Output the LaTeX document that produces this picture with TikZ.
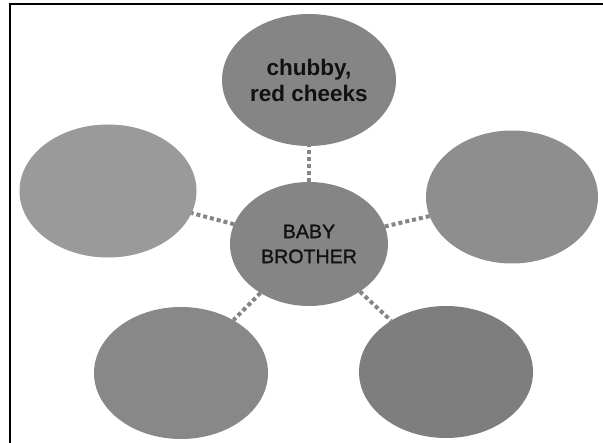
\documentclass[tikz,border=0pt]{standalone}
\usepackage{fontspec}
\setmainfont{Liberation Sans}
\newfontfamily\medfont[FakeBold=1.3]{Liberation Sans}
\usetikzlibrary{shapes.geometric}
\definecolor{blobA}{HTML}{858585}
\definecolor{blobL}{HTML}{9A9A9A}
\definecolor{blobR}{HTML}{8E8E8E}
\definecolor{blobBL}{HTML}{888888}
\definecolor{blobBR}{HTML}{7E7E7E}
\definecolor{txt}{HTML}{111111}
\tikzset{
  blob/.style={ellipse, inner sep=0pt, outer sep=0pt, minimum width=174pt, minimum height=132pt, align=center, text=txt},
  link/.style={draw=blobA, line width=4pt, dash pattern=on 4pt off 3pt}
}
\begin{document}
\begin{tikzpicture}[x=1pt,y=-1pt]
\useasboundingbox (0,0) rectangle (603,443);
\fill[white] (0,0) rectangle (603,443);
\draw[line width=2pt, black] (10,443) -- (10,4) -- (603,4);
\node[blob, fill=blobA, font=\fontsize{22.5}{26}\selectfont\bfseries] (top) at (309,80) {chubby,\\red cheeks};
\node[blob, fill=blobA, minimum width=158pt, minimum height=124pt, font=\medfont\fontsize{19.6}{25}\selectfont] (c) at (309,244) {BABY\\BROTHER};
\node[blob, fill=blobL, minimum width=177pt, minimum height=133pt] (l) at (108,191) {};
\node[blob, fill=blobR, minimum width=172pt, minimum height=133pt] (r) at (512,197) {};
\node[blob, fill=blobBL] (bl) at (181,373) {};
\node[blob, fill=blobBR, minimum height=132pt] (br) at (446,372) {};
\draw[link] (c) -- (top);
\draw[link] (c) -- (l);
\draw[link] (c) -- (r);
\draw[link] (c) -- (bl);
\draw[link] (c) -- (br);
\end{tikzpicture}
\end{document}
